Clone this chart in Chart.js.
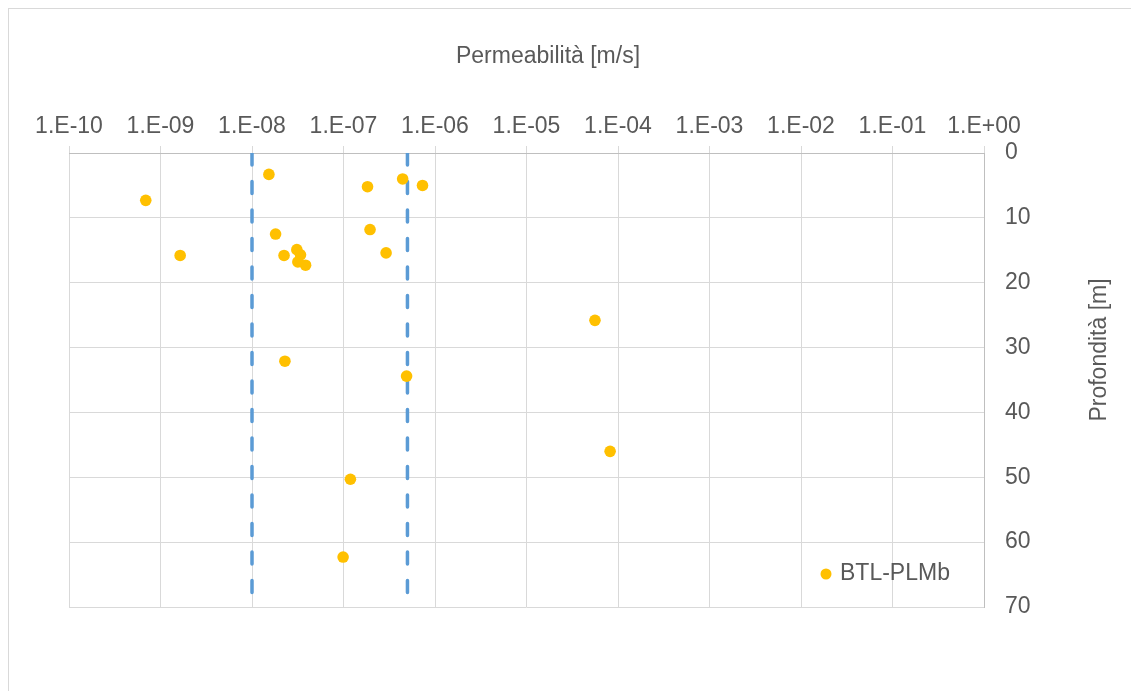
<!DOCTYPE html>
<html>
<head>
<meta charset="utf-8">
<script src="https://cdn.jsdelivr.net/npm/chart.js@4"></script>
<style>
  body { margin: 0; background: #fff; }
  canvas { display: block; }
</style>
</head>
<body>
<canvas id="permChart" width="1131" height="691"></canvas>
<script>
// permeability [m/s] and depth [m] of the BTL-PLMb samples
var permeability = [1.53e-8, 1.83e-7, 4.43e-7, 7.3e-7, 6.9e-10, 1.81e-8, 1.95e-7, 1.64e-9, 2.24e-8, 3.09e-8,
                    3.39e-8, 3.17e-8, 3.85e-8, 2.92e-7, 5.6e-5, 2.29e-8, 4.89e-7, 8.2e-5, 1.19e-7, 9.9e-8];
var depth = [3.3, 5.2, 4.0, 5.0, 7.3, 12.5, 11.8, 15.8, 15.8, 14.9,
             15.7, 16.8, 17.3, 15.4, 25.8, 32.1, 34.4, 46.0, 50.3, 62.3];

// reference limits (vertical dashed lines)
var limitLow = 1e-8;
var limitHigh = 5e-7;
var depthRange = [0, 70];

var xTickValues = [1e-10, 1e-9, 1e-8, 1e-7, 1e-6, 1e-5, 1e-4, 1e-3, 1e-2, 1e-1, 1];
var xTickLabels = ['1.E-10', '1.E-09', '1.E-08', '1.E-07', '1.E-06', '1.E-05', '1.E-04', '1.E-03', '1.E-02', '1.E-01', '1.E+00'];

var seriesName = 'BTL-PLMb';
var xTitle = 'Permeabilità [m/s]';
var yTitle = 'Profondità [m]';

var FONT = '"Liberation Sans", Arial, sans-serif';
var TEXT = '#595959';
var GRID = '#d9d9d9';

var points = permeability.map(function(k, i) { return {x: k, y: depth[i]}; });
function vline(v) { return depthRange.map(function(d) { return {x: v, y: d}; }); }

// chart frame, axis titles and legend drawn by hand (Excel look)
var extras = {
    id: 'extras',
    beforeDraw: function(chart) {
        var c = chart.ctx;
        c.save();
        c.strokeStyle = GRID;
        c.lineWidth = 1;
        c.strokeRect(8.5, 8.5, 1300, 900);
        c.restore();
    },
    afterDraw: function(chart) {
        var c = chart.ctx;
        var area = chart.chartArea;
        c.save();
        c.fillStyle = TEXT;
        c.font = '23px ' + FONT;
        c.textAlign = 'center';
        c.textBaseline = 'middle';
        c.fillText(xTitle, 548, 57);
        c.translate(1100, 350);
        c.rotate(-Math.PI / 2);
        c.fillText(yTitle, 0, 0);
        c.restore();

        c.save();
        c.fillStyle = '#FFC000';
        c.beginPath();
        c.arc(area.right - 158, area.bottom - 33, 5.5, 0, Math.PI * 2);
        c.fill();
        c.fillStyle = TEXT;
        c.font = '23px ' + FONT;
        c.textBaseline = 'middle';
        c.fillText(seriesName, area.right - 144, area.bottom - 33);
        c.restore();
    }
};

var ctx = document.getElementById('permChart').getContext('2d');
var permChart = new Chart(ctx, {
    type: 'scatter',
    data: {
        datasets: [{
            label: seriesName,
            data: points,
            backgroundColor: '#FFC000',
            borderColor: '#FFC000',
            pointRadius: 5.8,
            pointBorderWidth: 0,
            order: 0
        }, {
            label: 'lim1',
            data: vline(limitLow),
            showLine: true,
            borderColor: '#5B9BD5',
            borderWidth: 3.5,
            borderDash: [12, 16.5],
            borderCapStyle: 'round',
            pointRadius: 0,
            order: 1
        }, {
            label: 'lim2',
            data: vline(limitHigh),
            showLine: true,
            borderColor: '#5B9BD5',
            borderWidth: 3.5,
            borderDash: [12, 16.5],
            borderCapStyle: 'round',
            pointRadius: 0,
            order: 1
        }]
    },
    options: {
        responsive: false,
        animation: false,
        layout: { padding: { left: 69, right: 0, top: 0, bottom: 84 } },
        plugins: {
            legend: { display: false },
            tooltip: { enabled: false }
        },
        scales: {
            x: {
                type: 'logarithmic',
                position: 'top',
                min: 1e-10,
                max: 1,
                afterBuildTicks: function(scale) {
                    scale.ticks = xTickValues.map(function(v) { return {value: v}; });
                },
                afterFit: function(scale) { scale.height = 153; },
                grid: { color: GRID, tickLength: 7 },
                border: { color: '#bfbfbf' },
                ticks: {
                    autoSkip: false,
                    maxRotation: 0,
                    padding: 6,
                    color: TEXT,
                    font: { family: FONT, size: 23 },
                    callback: function(value, index) { return xTickLabels[index]; }
                }
            },
            y: {
                type: 'linear',
                position: 'right',
                reverse: true,
                min: depthRange[0],
                max: depthRange[1],
                afterFit: function(scale) { scale.width = 147; },
                grid: { color: GRID, drawTicks: false },
                border: { color: '#bfbfbf' },
                ticks: {
                    stepSize: 10,
                    padding: 21,
                    color: TEXT,
                    font: { family: FONT, size: 23 }
                }
            }
        }
    },
    plugins: [extras]
});
</script>
</body>
</html>
